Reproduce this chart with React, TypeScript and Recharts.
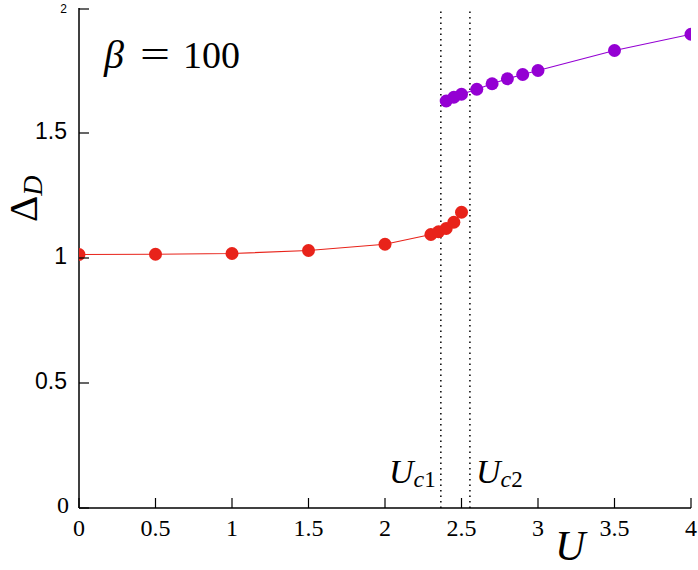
import { LineChart, Line, XAxis, YAxis, ReferenceLine } from 'recharts';

// U values and Delta_D for the two branches
const redU = [0, 0.5, 1, 1.5, 2, 2.3, 2.35, 2.4, 2.45, 2.5];
const redDelta = [1.014, 1.015, 1.018, 1.03, 1.055, 1.094, 1.105, 1.118, 1.143, 1.183];
const purpleU = [2.4, 2.45, 2.5, 2.6, 2.7, 2.8, 2.9, 3.0, 3.5, 4.0];
const purpleDelta = [1.628, 1.643, 1.655, 1.675, 1.697, 1.717, 1.734, 1.75, 1.83, 1.895];

const xTicks = [0, 0.5, 1, 1.5, 2, 2.5, 3, 3.5, 4];
const yTicks = [0, 0.5, 1, 1.5, 2];
const criticalU = [2.365, 2.555];

const redData = redU.map((u, i) => ({ u, d: redDelta[i] }));
const purpleData = purpleU.map((u, i) => ({ u, d: purpleDelta[i] }));

const SERIF = "'Liberation Serif', 'Times New Roman', Times, 'DejaVu Serif', serif";
const SANS = "'Liberation Sans', Arial, Helvetica, sans-serif";
const serif = { fontFamily: SERIF };
const sans = { fontFamily: SANS };

const BottomTick = (props: any) => {
  const { x, y, payload } = props;
  return (
    <g>
      <line x1={x} x2={x} y1={y} y2={y - 10} stroke="#000" strokeWidth={1.2} />
      <text x={x} y={y + 28} textAnchor="middle" style={serif} fontSize={24} fill="#000">
        {String(payload.value)}
      </text>
    </g>
  );
};

const TopTick = (props: any) => {
  const { x, y } = props;
  return <line x1={x} x2={x} y1={y} y2={y + 10} stroke="#000" strokeWidth={1.2} />;
};

const LeftTick = (props: any) => {
  const { x, y, payload } = props;
  const v = payload.value;
  let label = null;
  if (v === 0) {
    label = (
      <text x={x - 10} y={y + 5} textAnchor="end" style={serif} fontSize={24} fill="#000">0</text>
    );
  } else if (v === 2) {
    label = (
      <text x={x - 12} y={y + 4} textAnchor="end" style={sans} fontSize={12} fill="#000">2</text>
    );
  } else {
    label = (
      <text x={x - 12} y={y + 6} textAnchor="end" style={sans} fontSize={23} fill="#000">
        {String(v)}
      </text>
    );
  }
  return (
    <g>
      <line x1={x} x2={x + 10} y1={y} y2={y} stroke="#000" strokeWidth={1.2} />
      {label}
    </g>
  );
};

const RightTick = (props: any) => {
  const { x, y } = props;
  return <line x1={x} x2={x - 10} y1={y} y2={y} stroke="#000" strokeWidth={1.2} />;
};

export default function App() {
  return (
    <div style={{ position: 'relative', width: 698, height: 570 }}>
      <style>{`body{margin:0}`}</style>
      <LineChart width={698} height={570} margin={{ top: 8, right: 7, bottom: 0, left: 0 }}>
        <XAxis
          xAxisId="b"
          dataKey="u"
          type="number"
          domain={[0, 4]}
          ticks={xTicks}
          height={62}
          tickSize={0}
          tickMargin={0}
          tick={<BottomTick />}
          axisLine={{ stroke: '#000', strokeWidth: 1.5 }}
          allowDataOverflow
        />
        <XAxis
          xAxisId="t"
          orientation="top"
          type="number"
          domain={[0, 4]}
          ticks={xTicks}
          height={0}
          tickSize={0}
          tickMargin={0}
          tick={<TopTick />}
          axisLine={{ stroke: '#000', strokeWidth: 1.5 }}
        />
        <YAxis
          yAxisId="l"
          type="number"
          domain={[0, 2]}
          ticks={yTicks}
          width={79}
          tickSize={0}
          tickMargin={0}
          tick={<LeftTick />}
          axisLine={{ stroke: '#000', strokeWidth: 1.5 }}
          allowDataOverflow
        />
        <YAxis
          yAxisId="r"
          orientation="right"
          type="number"
          domain={[0, 2]}
          ticks={yTicks}
          width={0}
          tickSize={0}
          tickMargin={0}
          tick={<RightTick />}
          axisLine={{ stroke: '#000', strokeWidth: 1.5 }}
        />
        {criticalU.map((u) => (
          <ReferenceLine
            key={u}
            x={u}
            xAxisId="b"
            yAxisId="l"
            stroke="#000"
            strokeWidth={1.5}
            strokeDasharray="1.5 4"
          />
        ))}
        <Line
          xAxisId="b"
          yAxisId="l"
          data={redData}
          dataKey="d"
          type="linear"
          stroke="#e8231a"
          strokeWidth={1.2}
          dot={{ r: 6.5, fill: '#e8231a', stroke: '#e8231a', strokeWidth: 0 }}
          isAnimationActive={false}
        />
        <Line
          xAxisId="b"
          yAxisId="l"
          data={purpleData}
          dataKey="d"
          type="linear"
          stroke="#9400d3"
          strokeWidth={1.2}
          dot={{ r: 6.5, fill: '#9400d3', stroke: '#9400d3', strokeWidth: 0 }}
          isAnimationActive={false}
        />
      </LineChart>
      <svg
        width={698}
        height={570}
        style={{ position: 'absolute', left: 0, top: 0, pointerEvents: 'none' }}
      >
        <g style={serif} fill="#000">
          <text x={104} y={68} fontSize={40} fontStyle="italic">β</text>
          <text x={140} y={68} fontSize={40} textLength={30} lengthAdjust="spacingAndGlyphs">=</text>
          <text x={183} y={68} fontSize={38}>100</text>
          <text x={389} y={483} fontSize={34}>
            <tspan fontStyle="italic">U</tspan>
            <tspan fontStyle="italic" fontSize={24} dy={4}>c</tspan>
            <tspan fontSize={23}>1</tspan>
          </text>
          <text x={476} y={483} fontSize={34}>
            <tspan fontStyle="italic">U</tspan>
            <tspan fontStyle="italic" fontSize={24} dy={4}>c</tspan>
            <tspan fontSize={23}>2</tspan>
          </text>
          <text x={555} y={560} fontSize={42} fontStyle="italic">U</text>
          <text x={37} y={222} transform="rotate(-90 37 222)" fontSize={41}>
            Δ<tspan fontStyle="italic" fontSize={28} dy={5}>D</tspan>
          </text>
        </g>
      </svg>
    </div>
  );
}
